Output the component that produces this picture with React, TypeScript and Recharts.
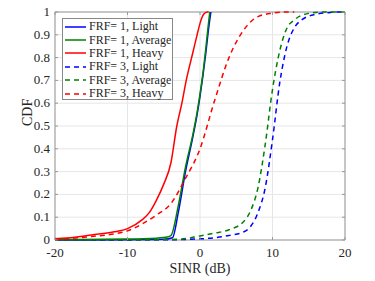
import React from 'react';
import { LineChart, Line, XAxis, YAxis, CartesianGrid, ReferenceArea } from 'recharts';

// SINR values (dB) and CDF values
const frf1LightX = [-20, -10, -5, -3.8, -3, -2, -1, -0.4, 0, 0.4, 0.8, 1.2, 1.5];
const frf1LightY = [0, 0.001, 0.003, 0.01, 0.12, 0.3, 0.45, 0.55, 0.63, 0.72, 0.82, 0.93, 1];

const frf1AvgX = [-20, -10, -6, -4.5, -4, -3, -2, -1, -0.4, 0, 0.4, 0.8, 1.1, 1.35];
const frf1AvgY = [0.002, 0.004, 0.008, 0.013, 0.02, 0.15, 0.32, 0.46, 0.56, 0.64, 0.73, 0.84, 0.93, 1];

const frf1HeavyX = [-20, -17, -15, -12, -10, -8, -7, -6, -5, -4, -3.2, -2.5, -1.9, -1, -0.4, 0, 0.5, 1, 1.2];
const frf1HeavyY = [0.005, 0.013, 0.022, 0.035, 0.05, 0.088, 0.12, 0.175, 0.245, 0.34, 0.5, 0.6, 0.7, 0.82, 0.9, 0.95, 0.99, 1, 1];

const frf3LightX = [-20, -5, 0, 2, 4, 6, 7, 8, 9, 10, 11, 12, 13, 14, 16, 18, 19, 20];
const frf3LightY = [0, 0.001, 0.005, 0.01, 0.02, 0.035, 0.06, 0.12, 0.23, 0.44, 0.69, 0.85, 0.93, 0.965, 0.99, 0.998, 1, 1];

const frf3AvgX = [-20, -3, 0, 2, 4, 6, 7, 8, 9, 10, 11, 12, 13, 14, 16, 17, 20];
const frf3AvgY = [0, 0.003, 0.018, 0.03, 0.045, 0.08, 0.13, 0.23, 0.42, 0.66, 0.83, 0.93, 0.965, 0.985, 0.998, 1, 1];

const frf3HeavyX = [-20, -15, -10, -8, -6, -4, -2, 0, 2, 4, 6, 8, 10, 12, 13];
const frf3HeavyY = [0.003, 0.015, 0.04, 0.07, 0.11, 0.16, 0.27, 0.4, 0.61, 0.8, 0.92, 0.98, 0.995, 1, 1];

const xTicks = [-20, -10, 0, 10, 20];
const yTicks = [0, 0.1, 0.2, 0.3, 0.4, 0.5, 0.6, 0.7, 0.8, 0.9, 1];

const toPoints = (xs: number[], ys: number[]) => xs.map((x, i) => ({ x, y: ys[i] }));

const series = [
  { name: 'FRF= 1, Light', color: '#0000ff', dashed: false, data: toPoints(frf1LightX, frf1LightY) },
  { name: 'FRF= 1, Average', color: '#008000', dashed: false, data: toPoints(frf1AvgX, frf1AvgY) },
  { name: 'FRF= 1, Heavy', color: '#ff0000', dashed: false, data: toPoints(frf1HeavyX, frf1HeavyY) },
  { name: 'FRF= 3, Light', color: '#0000ff', dashed: true, data: toPoints(frf3LightX, frf3LightY) },
  { name: 'FRF= 3, Average', color: '#008000', dashed: true, data: toPoints(frf3AvgX, frf3AvgY) },
  { name: 'FRF= 3, Heavy', color: '#ff0000', dashed: true, data: toPoints(frf3HeavyX, frf3HeavyY) },
];

const FONT = '"Liberation Serif", "DejaVu Serif", serif';
const PLOT = { left: 55, right: 345, top: 12, bottom: 240 };

function XTick(props: any) {
  const { x, payload } = props;
  return (
    <g>
      <line x1={x} x2={x} y1={PLOT.bottom} y2={PLOT.bottom - 3} stroke="#999" />
      <line x1={x} x2={x} y1={PLOT.top} y2={PLOT.top + 3} stroke="#999" />
      <text x={x} y={PLOT.bottom + 17} textAnchor="middle" fontSize={13} fill="#262626" fontFamily={FONT}>
        {payload.value}
      </text>
    </g>
  );
}

function YTick(props: any) {
  const { y, payload } = props;
  return (
    <g>
      <line x1={PLOT.left} x2={PLOT.left + 3} y1={y} y2={y} stroke="#999" />
      <line x1={PLOT.right} x2={PLOT.right - 3} y1={y} y2={y} stroke="#999" />
      <text x={PLOT.left - 5} y={y + 4} textAnchor="end" fontSize={13} fill="#262626" fontFamily={FONT}>
        {payload.value}
      </text>
    </g>
  );
}

function Legend() {
  return (
    <div
      style={{
        position: 'absolute',
        left: 62,
        top: 18,
        width: 111,
        height: 82,
        boxSizing: 'border-box',
        border: '1px solid #888',
        background: '#fff',
        fontFamily: FONT,
        fontSize: 12,
        color: '#262626',
        padding: '1px 0 0 2px',
      }}
    >
      {series.map((s) => (
        <div key={s.name} style={{ display: 'flex', alignItems: 'center', height: 13.4, whiteSpace: 'nowrap' }}>
          <svg width={22} height={6} style={{ marginRight: 2 }}>
            <line x1={0} x2={21} y1={3} y2={3} stroke={s.color} strokeWidth={1.5} strokeDasharray={s.dashed ? '5 4' : undefined} />
          </svg>
          <span>{s.name}</span>
        </div>
      ))}
    </div>
  );
}

export default function App() {
  return (
    <div style={{ position: 'absolute', left: 0, top: 0, width: 375, height: 281, background: '#fff' }}>
      <LineChart width={375} height={281} margin={{ top: 12, right: 30, bottom: 0, left: 0 }}>
        <CartesianGrid stroke="#e6e6e6" />
        <XAxis
          type="number"
          dataKey="x"
          domain={[-20, 20]}
          ticks={xTicks}
          interval={0}
          height={41}
          tickLine={false}
          axisLine={false}
          tick={<XTick />}
          allowDuplicatedCategory={false}
          label={{ value: 'SINR (dB)', position: 'insideBottom', offset: 8, fontSize: 14, fill: '#262626', fontFamily: FONT }}
        />
        <YAxis
          type="number"
          domain={[0, 1]}
          ticks={yTicks}
          interval={0}
          width={55}
          tickLine={false}
          axisLine={false}
          tick={<YTick />}
          label={{ value: 'CDF', angle: -90, position: 'insideLeft', offset: 27, fontSize: 14, fill: '#262626', fontFamily: FONT }}
        />
        <ReferenceArea x1={-20} x2={20} y1={0} y2={1} fill="none" stroke="#999" strokeWidth={1} ifOverflow="visible" />
        {series.map((s) => (
          <Line
            key={s.name}
            data={s.data}
            dataKey="y"
            type="monotone"
            stroke={s.color}
            strokeWidth={1.5}
            strokeDasharray={s.dashed ? '5 4' : undefined}
            dot={false}
            isAnimationActive={false}
          />
        ))}
      </LineChart>
      <Legend />
    </div>
  );
}
